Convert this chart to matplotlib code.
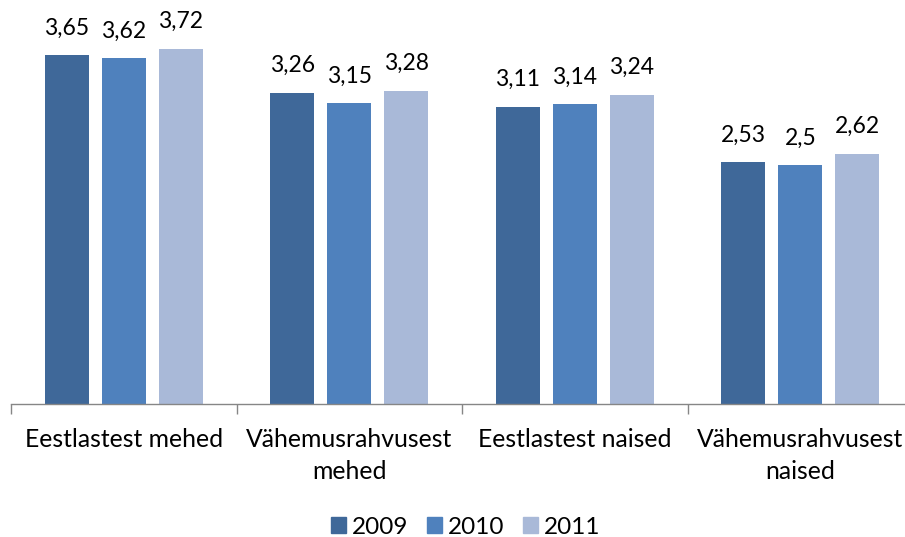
import matplotlib
matplotlib.use("Agg")
import matplotlib.pyplot as plt
import numpy as np

categories = ["Eestlastest mehed", "Vähemusrahvusest\nmehed", "Eestlastest naised", "Vähemusrahvusest\nnaised"]
series_names = ["2009", "2010", "2011"]
v2009 = [3.65, 3.26, 3.11, 2.53]
v2010 = [3.62, 3.15, 3.14, 2.50]
v2011 = [3.72, 3.28, 3.24, 2.62]
labels2009 = ["3,65", "3,26", "3,11", "2,53"]
labels2010 = ["3,62", "3,15", "3,14", "2,5"]
labels2011 = ["3,72", "3,28", "3,24", "2,62"]

colors = ["#3F6899", "#4F81BD", "#A9B9D8"]
plt.rcParams['font.family'] = ['Lato', 'DejaVu Sans']

fig = plt.figure(figsize=(9.05, 5.37), dpi=100)
W, H = 905, 537
x0, x1 = 11, 913
yb, yt = 404, 22
ax = fig.add_axes([x0 / W, 1 - yb / H, (x1 - x0) / W, (yb - yt) / H])

x = np.arange(len(categories))
bw = 0.195
step = 0.253
for i, (vals, labs) in enumerate(zip([v2009, v2010, v2011], [labels2009, labels2010, labels2011])):
    pos = x + (i - 1) * step
    bars = ax.bar(pos, vals, width=bw, color=colors[i], label=series_names[i], zorder=2)
    for b, lab in zip(bars, labs):
        ax.annotate(lab, (b.get_x() + b.get_width() / 2, b.get_height()),
                    xytext=(0, 12), textcoords="offset points", ha="center", va="bottom",
                    fontsize=16.5, color="#000000", annotation_clip=False)

ax.set_xlim(-0.5, len(categories) - 0.5)
ax.set_ylim(0, 4)
for s in ["top", "right", "left"]:
    ax.spines[s].set_visible(False)
ax.spines["bottom"].set_color("#868686")
ax.spines["bottom"].set_linewidth(1.0)
ax.set_yticks([])
ax.set_xticks(np.arange(len(categories) + 1) - 0.5, minor=False)
ax.set_xticklabels([])
ax.tick_params(axis="x", which="major", length=7, color="#868686", width=1.0)
ax.set_xticks(x, minor=True)
ax.set_xticklabels(categories, minor=True, fontsize=17.8, linespacing=1.5)
ax.tick_params(axis="x", which="minor", length=0, pad=17)

handles = [plt.Rectangle((0, 0), 1, 1, color=c) for c in colors]
fig.legend(handles, series_names, loc="center", bbox_to_anchor=(466 / W, 1 - 527 / H),
           ncol=3, frameon=False, fontsize=17.5, handlelength=0.6, handleheight=0.6,
           handletextpad=0.25, columnspacing=0.78, borderpad=0)

fig.savefig("out.png", dpi=100)
